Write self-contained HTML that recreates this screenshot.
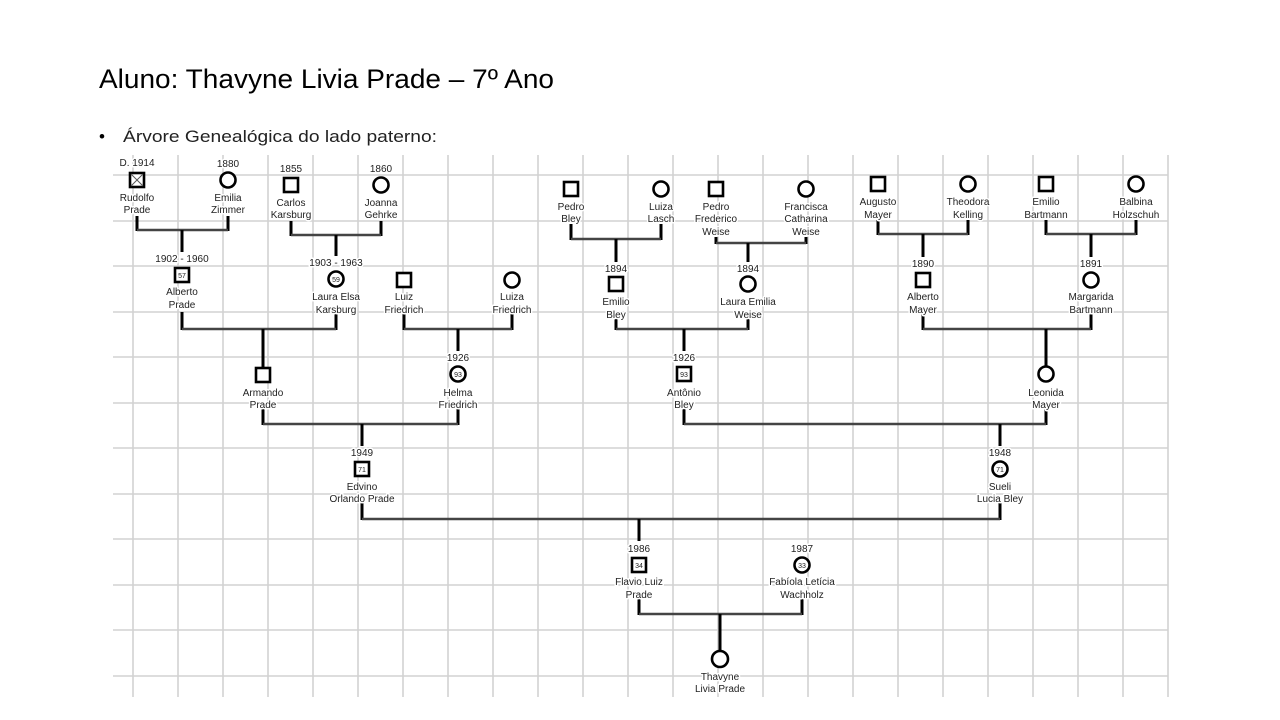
<!DOCTYPE html>
<html><head><meta charset="utf-8"><style>
html,body{margin:0;padding:0;background:#fff;}
svg{display:block;}
.t{font-family:"Liberation Sans",Arial,sans-serif;font-size:10px;fill:#222;text-anchor:middle;paint-order:stroke;stroke:#fff;stroke-width:3px;stroke-linejoin:round;}
.n{font-family:"Liberation Sans",Arial,sans-serif;font-size:7px;fill:#222;text-anchor:middle;}
.g line{stroke:#d2d2d2;stroke-width:1.6;}
.s{fill:#fff;stroke:#000;stroke-width:2.6;}
.b{stroke:#444;stroke-width:2.5;fill:none;}
.v{stroke:#000;stroke-width:3;}
</style></head><body>
<svg width="1280" height="720" viewBox="0 0 1280 720" xmlns="http://www.w3.org/2000/svg">
<text x="99" y="88" font-family="'Liberation Sans',Arial,sans-serif" font-size="27" fill="#000" textLength="455" lengthAdjust="spacingAndGlyphs">Aluno: Thavyne Livia Prade – 7º Ano</text>
<text x="99" y="142" font-family="'Liberation Sans',Arial,sans-serif" font-size="17" fill="#000">•</text>
<text x="123" y="142" font-family="'Liberation Sans',Arial,sans-serif" font-size="17" fill="#222" textLength="314" lengthAdjust="spacingAndGlyphs">Árvore Genealógica do lado paterno:</text>

<g class="g">
<line x1="133" y1="155" x2="133" y2="697"/><line x1="178" y1="155" x2="178" y2="697"/><line x1="223" y1="155" x2="223" y2="697"/><line x1="268" y1="155" x2="268" y2="697"/><line x1="313" y1="155" x2="313" y2="697"/><line x1="358" y1="155" x2="358" y2="697"/><line x1="403" y1="155" x2="403" y2="697"/><line x1="448" y1="155" x2="448" y2="697"/><line x1="493" y1="155" x2="493" y2="697"/><line x1="538" y1="155" x2="538" y2="697"/><line x1="583" y1="155" x2="583" y2="697"/><line x1="628" y1="155" x2="628" y2="697"/><line x1="673" y1="155" x2="673" y2="697"/><line x1="718" y1="155" x2="718" y2="697"/><line x1="763" y1="155" x2="763" y2="697"/><line x1="808" y1="155" x2="808" y2="697"/><line x1="853" y1="155" x2="853" y2="697"/><line x1="898" y1="155" x2="898" y2="697"/><line x1="943" y1="155" x2="943" y2="697"/><line x1="988" y1="155" x2="988" y2="697"/><line x1="1033" y1="155" x2="1033" y2="697"/><line x1="1078" y1="155" x2="1078" y2="697"/><line x1="1123" y1="155" x2="1123" y2="697"/><line x1="1168" y1="155" x2="1168" y2="697"/>
<line x1="113" y1="175" x2="1168" y2="175"/><line x1="113" y1="221" x2="1168" y2="221"/><line x1="113" y1="266" x2="1168" y2="266"/><line x1="113" y1="312" x2="1168" y2="312"/><line x1="113" y1="357" x2="1168" y2="357"/><line x1="113" y1="403" x2="1168" y2="403"/><line x1="113" y1="448" x2="1168" y2="448"/><line x1="113" y1="494" x2="1168" y2="494"/><line x1="113" y1="539" x2="1168" y2="539"/><line x1="113" y1="585" x2="1168" y2="585"/><line x1="113" y1="630" x2="1168" y2="630"/><line x1="113" y1="676" x2="1168" y2="676"/>
</g>

<!-- connectors -->
<g>
<!-- Rudolfo/Emilia -->
<line class="v" x1="137" y1="216" x2="137" y2="231"/><line class="v" x1="228" y1="216" x2="228" y2="231"/><line class="b" x1="137" y1="230" x2="228" y2="230"/><line class="v" x1="182" y1="230" x2="182" y2="252"/>
<!-- Carlos/Joanna -->
<line class="v" x1="291" y1="221" x2="291" y2="236"/><line class="v" x1="381" y1="221" x2="381" y2="236"/><line class="b" x1="291" y1="235" x2="381" y2="235"/><line class="v" x1="336" y1="235" x2="336" y2="256"/>
<!-- Pedro/Luiza Lasch -->
<line class="v" x1="571" y1="224" x2="571" y2="240"/><line class="v" x1="661" y1="224" x2="661" y2="240"/><line class="b" x1="571" y1="239" x2="661" y2="239"/><line class="v" x1="616" y1="239" x2="616" y2="262"/>
<!-- Weise -->
<line class="v" x1="716" y1="237" x2="716" y2="244"/><line class="v" x1="806" y1="237" x2="806" y2="244"/><line class="b" x1="716" y1="243" x2="806" y2="243"/><line class="v" x1="748" y1="243" x2="748" y2="262"/>
<!-- Augusto/Theodora -->
<line class="v" x1="878" y1="220" x2="878" y2="235"/><line class="v" x1="968" y1="220" x2="968" y2="235"/><line class="b" x1="878" y1="234" x2="968" y2="234"/><line class="v" x1="923" y1="234" x2="923" y2="257"/>
<!-- Bartmann -->
<line class="v" x1="1046" y1="220" x2="1046" y2="235"/><line class="v" x1="1136" y1="220" x2="1136" y2="235"/><line class="b" x1="1046" y1="234" x2="1136" y2="234"/><line class="v" x1="1091" y1="234" x2="1091" y2="257"/>
<!-- Alberto/Laura -->
<line class="v" x1="182" y1="312" x2="182" y2="330"/><line class="v" x1="336" y1="314" x2="336" y2="330"/><line class="b" x1="182" y1="329" x2="336" y2="329"/><line class="v" x1="263" y1="329" x2="263" y2="368"/>
<!-- Luiz/Luiza F -->
<line class="v" x1="404" y1="314" x2="404" y2="330"/><line class="v" x1="512" y1="314" x2="512" y2="330"/><line class="b" x1="404" y1="329" x2="512" y2="329"/><line class="v" x1="458" y1="329" x2="458" y2="351"/>
<!-- Emilio/Laura Emilia -->
<line class="v" x1="616" y1="319" x2="616" y2="330"/><line class="v" x1="748" y1="319" x2="748" y2="330"/><line class="b" x1="616" y1="329" x2="748" y2="329"/><line class="v" x1="684" y1="329" x2="684" y2="351"/>
<!-- Alberto Mayer/Margarida -->
<line class="v" x1="923" y1="314" x2="923" y2="330"/><line class="v" x1="1091" y1="314" x2="1091" y2="330"/><line class="b" x1="923" y1="329" x2="1091" y2="329"/><line class="v" x1="1046" y1="329" x2="1046" y2="367"/>
<!-- Armando/Helma -->
<line class="v" x1="263" y1="409" x2="263" y2="425"/><line class="v" x1="458" y1="409" x2="458" y2="425"/><line class="b" x1="263" y1="424" x2="458" y2="424"/><line class="v" x1="362" y1="424" x2="362" y2="446"/>
<!-- Antonio/Leonida -->
<line class="v" x1="684" y1="409" x2="684" y2="425"/><line class="v" x1="1046" y1="409" x2="1046" y2="425"/><line class="b" x1="684" y1="424" x2="1046" y2="424"/><line class="v" x1="1000" y1="424" x2="1000" y2="446"/>
<!-- Edvino/Sueli -->
<line class="v" x1="362" y1="503" x2="362" y2="520"/><line class="v" x1="1000" y1="503" x2="1000" y2="520"/><line class="b" x1="362" y1="519" x2="1000" y2="519"/><line class="v" x1="639" y1="519" x2="639" y2="541"/>
<!-- Flavio/Fabiola -->
<line class="v" x1="639" y1="599" x2="639" y2="615"/><line class="v" x1="802" y1="599" x2="802" y2="615"/><line class="b" x1="639" y1="614" x2="802" y2="614"/><line class="v" x1="720" y1="614" x2="720" y2="651"/>
</g>

<!-- symbols -->
<g>
<rect class="s" x="130" y="173" width="14" height="14"/><line x1="131" y1="174" x2="143" y2="186" stroke="#555" stroke-width="1"/><line x1="143" y1="174" x2="131" y2="186" stroke="#555" stroke-width="1"/>
<circle class="s" cx="228" cy="180" r="7.5"/>
<rect class="s" x="284" y="178" width="14" height="14"/>
<circle class="s" cx="381" cy="185" r="7.5"/>
<rect class="s" x="564" y="182" width="14" height="14"/>
<circle class="s" cx="661" cy="189" r="7.5"/>
<rect class="s" x="709" y="182" width="14" height="14"/>
<circle class="s" cx="806" cy="189" r="7.5"/>
<rect class="s" x="871" y="177" width="14" height="14"/>
<circle class="s" cx="968" cy="184" r="7.5"/>
<rect class="s" x="1039" y="177" width="14" height="14"/>
<circle class="s" cx="1136" cy="184" r="7.5"/>
<rect class="s" x="175" y="268" width="14" height="14"/><text class="n" x="182" y="278">57</text>
<circle class="s" cx="336" cy="279" r="7.5"/><text class="n" x="336" y="282">59</text>
<rect class="s" x="397" y="273" width="14" height="14"/>
<circle class="s" cx="512" cy="280" r="7.5"/>
<rect class="s" x="609" y="277" width="14" height="14"/>
<circle class="s" cx="748" cy="284" r="7.5"/>
<rect class="s" x="916" y="273" width="14" height="14"/>
<circle class="s" cx="1091" cy="280" r="7.5"/>
<rect class="s" x="256" y="368" width="14" height="14"/>
<circle class="s" cx="458" cy="374" r="7.5"/><text class="n" x="458" y="377">93</text>
<rect class="s" x="677" y="367" width="14" height="14"/><text class="n" x="684" y="377">93</text>
<circle class="s" cx="1046" cy="374" r="7.5"/>
<rect class="s" x="355" y="462" width="14" height="14"/><text class="n" x="362" y="472">71</text>
<circle class="s" cx="1000" cy="469" r="7.5"/><text class="n" x="1000" y="472">71</text>
<rect class="s" x="632" y="558" width="14" height="14"/><text class="n" x="639" y="568">34</text>
<circle class="s" cx="802" cy="565" r="7.5"/><text class="n" x="802" y="568">33</text>
<circle class="s" cx="720" cy="659" r="8"/>
</g>

<!-- labels -->
<g>
<text class="t" x="137" y="166">D. 1914</text><text class="t" x="137" y="201">Rudolfo</text><text class="t" x="137" y="213">Prade</text>
<text class="t" x="228" y="167">1880</text><text class="t" x="228" y="201">Emilia</text><text class="t" x="228" y="213">Zimmer</text>
<text class="t" x="291" y="172">1855</text><text class="t" x="291" y="206">Carlos</text><text class="t" x="291" y="218">Karsburg</text>
<text class="t" x="381" y="172">1860</text><text class="t" x="381" y="206">Joanna</text><text class="t" x="381" y="218">Gehrke</text>
<text class="t" x="571" y="210">Pedro</text><text class="t" x="571" y="222">Bley</text>
<text class="t" x="661" y="210">Luiza</text><text class="t" x="661" y="222">Lasch</text>
<text class="t" x="716" y="210">Pedro</text><text class="t" x="716" y="222">Frederico</text><text class="t" x="716" y="235">Weise</text>
<text class="t" x="806" y="210">Francisca</text><text class="t" x="806" y="222">Catharina</text><text class="t" x="806" y="235">Weise</text>
<text class="t" x="878" y="205">Augusto</text><text class="t" x="878" y="218">Mayer</text>
<text class="t" x="968" y="205">Theodora</text><text class="t" x="968" y="218">Kelling</text>
<text class="t" x="1046" y="205">Emilio</text><text class="t" x="1046" y="218">Bartmann</text>
<text class="t" x="1136" y="205">Balbina</text><text class="t" x="1136" y="218">Holzschuh</text>
<text class="t" x="182" y="262">1902 - 1960</text><text class="t" x="182" y="295">Alberto</text><text class="t" x="182" y="308">Prade</text>
<text class="t" x="336" y="266">1903 - 1963</text><text class="t" x="336" y="300">Laura Elsa</text><text class="t" x="336" y="313">Karsburg</text>
<text class="t" x="404" y="300">Luiz</text><text class="t" x="404" y="313">Friedrich</text>
<text class="t" x="512" y="300">Luiza</text><text class="t" x="512" y="313">Friedrich</text>
<text class="t" x="616" y="272">1894</text><text class="t" x="616" y="305">Emilio</text><text class="t" x="616" y="318">Bley</text>
<text class="t" x="748" y="272">1894</text><text class="t" x="748" y="305">Laura Emilia</text><text class="t" x="748" y="318">Weise</text>
<text class="t" x="923" y="267">1890</text><text class="t" x="923" y="300">Alberto</text><text class="t" x="923" y="313">Mayer</text>
<text class="t" x="1091" y="267">1891</text><text class="t" x="1091" y="300">Margarida</text><text class="t" x="1091" y="313">Bartmann</text>
<text class="t" x="263" y="396">Armando</text><text class="t" x="263" y="408">Prade</text>
<text class="t" x="458" y="361">1926</text><text class="t" x="458" y="396">Helma</text><text class="t" x="458" y="408">Friedrich</text>
<text class="t" x="684" y="361">1926</text><text class="t" x="684" y="396">Antônio</text><text class="t" x="684" y="408">Bley</text>
<text class="t" x="1046" y="396">Leonida</text><text class="t" x="1046" y="408">Mayer</text>
<text class="t" x="362" y="456">1949</text><text class="t" x="362" y="490">Edvino</text><text class="t" x="362" y="502">Orlando Prade</text>
<text class="t" x="1000" y="456">1948</text><text class="t" x="1000" y="490">Sueli</text><text class="t" x="1000" y="502">Lucia Bley</text>
<text class="t" x="639" y="552">1986</text><text class="t" x="639" y="585">Flavio Luiz</text><text class="t" x="639" y="598">Prade</text>
<text class="t" x="802" y="552">1987</text><text class="t" x="802" y="585">Fabíola Letícia</text><text class="t" x="802" y="598">Wachholz</text>
<text class="t" x="720" y="680">Thavyne</text><text class="t" x="720" y="692">Livia Prade</text>
</g>
</svg>
</body></html>
